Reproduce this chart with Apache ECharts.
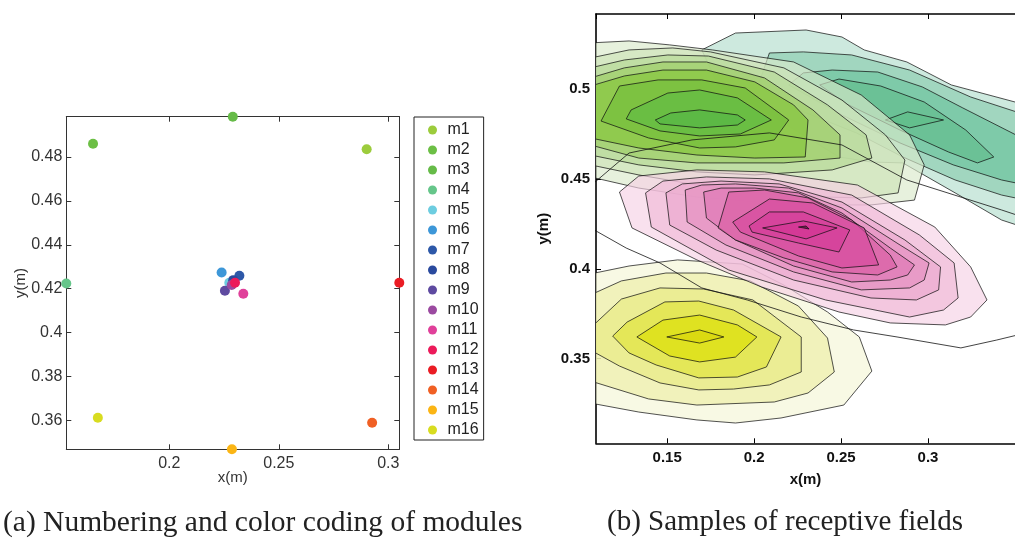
<!DOCTYPE html>
<html><head><meta charset="utf-8">
<script src="https://cdn.jsdelivr.net/npm/echarts@6/dist/echarts.min.js"></script>
<style>html,body{margin:0;padding:0;background:#fff}#c{width:1015px;height:541px}</style>
</head><body><div id="c"></div>
<script>
// ---------- Panel (a): module positions ----------
const moduleNames = ['m1','m2','m3','m4','m5','m6','m7','m8','m9','m10','m11','m12','m13','m14','m15','m16'];
const moduleX = [0.2901,0.1652,0.2290,0.1530,0.2274,0.2239,0.2320,0.2292,0.2254,0.2285,0.2338,0.2300,0.3050,0.2926,0.2286,0.1674];
const moduleY = [0.4836,0.4861,0.4984,0.4224,0.4227,0.4274,0.4259,0.4239,0.4191,0.4217,0.4177,0.4227,0.4227,0.3589,0.3468,0.3612];
const moduleColors = ['#9ccc3c','#6cbf45','#66bb48','#66c68a','#6dcde0','#3d97d8','#2d58a8','#2a4a9e','#5e4aa0','#9b4aa0','#e0409a','#ec1a5a','#ea1c24','#f06024','#fbb514','#d8dc20'];
const axisA = {xMin:0.1530, xMax:0.3050, yMin:0.3468, yMax:0.4984};

// ---------- Panel (b): receptive field contours (rings inner -> outer) ----------
const axisB = {xMin:0.1091, xMax:0.35, yMin:0.3029, yMax:0.5419};

const yellowRings = [
 [[0.1498,0.3621],[0.1687,0.3660],[0.1826,0.3621],[0.1687,0.3587]],
 [[0.1326,0.3621],[0.1476,0.3715],[0.1687,0.3743],[0.1904,0.3688],[0.2016,0.3621],[0.1893,0.3509],[0.1687,0.3482],[0.1515,0.3515]],
 [[0.1187,0.3626],[0.1270,0.3704],[0.1487,0.3816],[0.1682,0.3821],[0.1882,0.3771],[0.2155,0.3621],[0.2071,0.3454],[0.1904,0.3398],[0.1682,0.3393],[0.1437,0.3465],[0.1281,0.3532]],
 [[0.1059,0.3671],[0.1237,0.3832],[0.1459,0.3894],[0.1710,0.3888],[0.1993,0.3827],[0.2271,0.3621],[0.2271,0.3426],[0.2088,0.3354],[0.1882,0.3331],[0.1682,0.3326],[0.1459,0.3365],[0.1226,0.3459],[0.1059,0.3548]],
 [[0.1059,0.3855],[0.1237,0.3933],[0.1493,0.3977],[0.1726,0.3977],[0.1977,0.3933],[0.2255,0.3793],[0.2422,0.3615],[0.2461,0.3426],[0.2310,0.3309],[0.2116,0.3259],[0.1671,0.3242],[0.1393,0.3276],[0.1059,0.3376]],
 [[0.1059,0.3972],[0.1281,0.4016],[0.1560,0.4050],[0.1932,0.4027],[0.2171,0.3910],[0.2422,0.3760],[0.2605,0.3621],[0.2677,0.3431],[0.2516,0.3242],[0.2155,0.3170],[0.1893,0.3142],[0.1671,0.3159],[0.1337,0.3203],[0.1059,0.3253]]
];

const magentaRings = [
 [[0.2255,0.4233],[0.2299,0.4239],[0.2316,0.4222]],
 [[0.2049,0.4228],[0.2283,0.4267],[0.2477,0.4228],[0.2299,0.4167]],
 [[0.1971,0.4239],[0.2088,0.4317],[0.2283,0.4317],[0.2550,0.4217],[0.2488,0.4094],[0.2255,0.4144],[0.1988,0.4205]],
 [[0.1877,0.4261],[0.2088,0.4389],[0.2338,0.4367],[0.2633,0.4228],[0.2716,0.4022],[0.2505,0.4005],[0.2255,0.4072],[0.1921,0.4205]],
 [[0.1793,0.4228],[0.1854,0.4428],[0.2060,0.4439],[0.2310,0.4395],[0.2561,0.4272],[0.2783,0.4077],[0.2822,0.4011],[0.2711,0.3966],[0.2449,0.3983],[0.2171,0.4061],[0.1893,0.4161]],
 [[0.1710,0.4428],[0.1810,0.4450],[0.2004,0.4450],[0.2255,0.4423],[0.2505,0.4311],[0.2783,0.4116],[0.2922,0.4022],[0.2883,0.3966],[0.2783,0.3938],[0.2561,0.3927],[0.2227,0.4016],[0.1893,0.4161],[0.1726,0.4283]],
 [[0.1604,0.4439],[0.1699,0.4467],[0.1893,0.4473],[0.2199,0.4450],[0.2505,0.4339],[0.2839,0.4133],[0.3006,0.4033],[0.2978,0.3938],[0.2894,0.3894],[0.2616,0.3883],[0.2227,0.3983],[0.1838,0.4133],[0.1615,0.4261]],
 [[0.1493,0.4423],[0.1587,0.4473],[0.1810,0.4489],[0.2144,0.4473],[0.2505,0.4372],[0.2867,0.4161],[0.3072,0.4011],[0.3061,0.3883],[0.2933,0.3827],[0.2672,0.3838],[0.2227,0.3938],[0.1782,0.4105],[0.1515,0.4244]],
 [[0.1376,0.4423],[0.1476,0.4489],[0.1726,0.4512],[0.2088,0.4501],[0.2561,0.4411],[0.2950,0.4189],[0.3150,0.4033],[0.3173,0.3838],[0.3089,0.3771],[0.2894,0.3732],[0.2411,0.3827],[0.1854,0.3994],[0.1409,0.4233]],
 [[0.1226,0.4428],[0.1337,0.4517],[0.1671,0.4551],[0.2060,0.4540],[0.2594,0.4467],[0.3039,0.4233],[0.3245,0.4011],[0.3339,0.3827],[0.3245,0.3732],[0.3100,0.3688],[0.2783,0.3699],[0.2488,0.3760],[0.2043,0.3899],[0.1671,0.4050],[0.1298,0.4228]]
];
const magentaOuterLine = [[0.1031,0.4439],[0.1120,0.4512],[0.1281,0.4645],[0.1643,0.4718],[0.2088,0.4757],[0.2505,0.4690],[0.2878,0.4495],[0.3423,0.4328],[0.3562,0.4283],[0.3562,0.3643],[0.3395,0.3604],[0.3189,0.3560],[0.2822,0.3621],[0.2572,0.3660],[0.2271,0.3732],[0.1960,0.3827],[0.1699,0.3894],[0.1459,0.4033],[0.1265,0.4116],[0.1031,0.4244]];

const greenRings = [
 [[0.1432,0.4829],[0.1521,0.4868],[0.1687,0.4885],[0.1904,0.4857],[0.1949,0.4829],[0.1904,0.4801],[0.1687,0.4785],[0.1459,0.4807]],
 [[0.1265,0.4835],[0.1293,0.4885],[0.1504,0.4979],[0.1687,0.4996],[0.1904,0.4952],[0.2099,0.4829],[0.1921,0.4751],[0.1687,0.4740],[0.1459,0.4768]],
 [[0.1120,0.4823],[0.1226,0.5018],[0.1448,0.5052],[0.1699,0.5052],[0.1949,0.5007],[0.2199,0.4829],[0.2116,0.4718],[0.1893,0.4679],[0.1687,0.4673],[0.1393,0.4729]],
 [[0.1059,0.5018],[0.1254,0.5074],[0.1476,0.5107],[0.1726,0.5107],[0.2004,0.5041],[0.2227,0.4913],[0.2310,0.4829],[0.2294,0.4623],[0.2004,0.4617],[0.1671,0.4634],[0.1337,0.4673],[0.1059,0.4729]],
 [[0.1059,0.5063],[0.1254,0.5119],[0.1476,0.5152],[0.1726,0.5152],[0.2060,0.5063],[0.2338,0.4885],[0.2494,0.4746],[0.2494,0.4617],[0.2171,0.4590],[0.1671,0.4590],[0.1337,0.4617],[0.1059,0.4690]],
 [[0.1059,0.5119],[0.1254,0.5163],[0.1504,0.5191],[0.1737,0.5185],[0.2116,0.5096],[0.2422,0.4913],[0.2644,0.4746],[0.2677,0.4617],[0.2449,0.4551],[0.2004,0.4523],[0.1671,0.4540],[0.1337,0.4579],[0.1059,0.4634]],
 [[0.1059,0.5174],[0.1281,0.5219],[0.1532,0.5230],[0.1749,0.5208],[0.2171,0.5119],[0.2505,0.4940],[0.2755,0.4746],[0.2867,0.4606],[0.2828,0.4423],[0.2616,0.4395],[0.2171,0.4406],[0.1671,0.4467],[0.1337,0.4523],[0.1059,0.4579]],
 [[0.1059,0.5258],[0.1281,0.5269],[0.1515,0.5247],[0.1760,0.5219],[0.2227,0.5152],[0.2616,0.4968],[0.2894,0.4746],[0.2978,0.4579],[0.2922,0.4383],[0.2672,0.4356],[0.2227,0.4356],[0.1671,0.4400],[0.1337,0.4450],[0.1059,0.4512]]
];

const tealRings = [
 [[0.2755,0.4829],[0.2883,0.4874],[0.3089,0.4829],[0.2894,0.4785]],
 [[0.2377,0.5024],[0.2488,0.5057],[0.2728,0.5018],[0.2978,0.4929],[0.3217,0.4773],[0.3378,0.4623],[0.3284,0.4590],[0.3117,0.4651],[0.2839,0.4773],[0.2533,0.4918]],
 [[0.2199,0.5024],[0.2283,0.5091],[0.2449,0.5107],[0.2711,0.5096],[0.2967,0.5013],[0.3200,0.4896],[0.3562,0.4718],[0.3562,0.4467],[0.3423,0.4495],[0.3145,0.4579],[0.2839,0.4701],[0.2505,0.4857]],
 [[0.2021,0.5013],[0.2088,0.5202],[0.2283,0.5208],[0.2561,0.5191],[0.2894,0.5107],[0.3245,0.4957],[0.3562,0.4857],[0.3562,0.4383],[0.3423,0.4411],[0.3156,0.4495],[0.2855,0.4623],[0.2588,0.4757],[0.2227,0.4896]],
 [[0.1699,0.5219],[0.1893,0.5313],[0.2299,0.5330],[0.2505,0.5291],[0.2633,0.5219],[0.2878,0.5152],[0.3134,0.5024],[0.3562,0.4913],[0.3562,0.4228],[0.3423,0.4272],[0.3156,0.4423],[0.2855,0.4590],[0.2672,0.4595],[0.2488,0.4623],[0.2021,0.4901],[0.1793,0.5024]]
];

// level colours (inner -> outer), as seen over white
const yellowColors  = ['#dada12','#dee122','#e4e658','#ebec94','#f1f2bb','#f8f9e4'];
const magentaColors = ['#7a1c55','#d43a97','#d6459c','#d955a3','#dd6aad','#e283bb','#e89bc7','#eeb2d4','#f3c7df','#f9e1ee'];
const greenColors   = ['#5db946','#6bbd44','#7dc142','#90c94f','#a8d27a','#c0dea4','#d6e8c4','#e7f1dd'];
const tealColors    = ['#64bf8d','#6bc196','#7ecaa8','#a1d7bf','#cde9de'];

const ALPHA = 0.65;
function hex(h){return [parseInt(h.slice(1,3),16),parseInt(h.slice(3,5),16),parseInt(h.slice(5,7),16)];}
function fillsFor(colors){
  return colors.map((c,i)=>{
    const t = hex(c);
    const p = i < colors.length-1 ? hex(colors[i+1]) : [255,255,255];
    const f = t.map((v,k)=>Math.max(0,Math.min(255,Math.round((v-(1-ALPHA)*p[k])/ALPHA))));
    return 'rgba('+f[0]+','+f[1]+','+f[2]+','+ALPHA+')';
  });
}
function fieldSeries(name, rings, colors, z){
  const fills = fillsFor(colors);
  const n = rings.length;
  return {
    type:'custom', name:name, xAxisIndex:2, yAxisIndex:2, clip:true, z:z, silent:true,
    data: rings.map((r,i)=>[rings[n-1-i][0][0], rings[n-1-i][0][1], n-1-i]),
    renderItem: function(params, api){
      const idx = api.value(2);
      const pts = rings[idx].map(p=>api.coord(p));
      return {type:'polygon', shape:{points:pts},
        style:{fill:fills[idx], stroke:'rgba(15,15,15,0.72)', lineWidth:1}};
    }
  };
}

const chart = echarts.init(document.getElementById('c'), null, {renderer:'canvas'});
const fA = 'Liberation Sans, Arial, sans-serif';
const tickA = {inside:true, length:5, lineStyle:{color:'#333'}};
const tickB = {inside:true, length:5, lineStyle:{color:'#000'}};

const scatterSeries = moduleNames.map((nm,i)=>({
  type:'scatter', name:nm, xAxisIndex:0, yAxisIndex:0, clip:false,
  symbolSize:10, itemStyle:{color:moduleColors[i], opacity:1},
  data:[[moduleX[i], moduleY[i]]], z:5
}));

const option = {
  animation:false,
  backgroundColor:'#fff',
  title:[
    {text:'(a) Numbering and color coding of modules', left:3, top:508, padding:0,
     textStyle:{fontFamily:'Liberation Serif, serif', fontSize:29.5, fontWeight:'normal', color:'#222'}},
    {text:'(b) Samples of receptive fields', left:607, top:508, padding:0,
     textStyle:{fontFamily:'Liberation Serif, serif', fontSize:29, fontWeight:'normal', color:'#222'}}
  ],
  legend:{
    data:moduleNames, orient:'vertical', left:414, top:117,
    icon:'circle', itemWidth:20, itemHeight:9, itemGap:0,
    padding:[3,5,0,14], borderColor:'#222', borderWidth:1,
    textStyle:{fontFamily:fA, fontSize:16, color:'#222', lineHeight:20},
    selectedMode:false
  },
  grid:[
    {left:66.3, top:116.7, width:333, height:332.6},
    {left:596, top:14, width:433, height:429.3}
  ],
  xAxis:[
    {gridIndex:0, type:'value', min:axisA.xMin, max:axisA.xMax, splitNumber:3, position:'bottom',
     axisLine:{lineStyle:{color:'#333', width:1}}, axisTick:tickA, splitLine:{show:false},
     axisLabel:{fontFamily:fA, fontSize:16, color:'#333', margin:6, showMinLabel:false, showMaxLabel:false},
     name:'x(m)', nameLocation:'middle', nameGap:21, nameMoveOverlap:false,
     nameTextStyle:{fontFamily:fA, fontSize:15, color:'#333'}},
    {gridIndex:0, type:'value', min:axisA.xMin, max:axisA.xMax, splitNumber:3, position:'top',
     axisLine:{lineStyle:{color:'#333', width:1}}, axisTick:tickA, splitLine:{show:false}, axisLabel:{show:false}},
    {gridIndex:1, type:'value', min:axisB.xMin, max:axisB.xMax, splitNumber:5, position:'bottom',
     axisLine:{lineStyle:{color:'#000', width:1.6}}, axisTick:tickB, splitLine:{show:false},
     axisLabel:{fontFamily:fA, fontSize:15, fontWeight:'bold', color:'#111', margin:7, showMinLabel:false, showMaxLabel:false},
     name:'x(m)', nameLocation:'middle', nameGap:29, nameMoveOverlap:false,
     nameTextStyle:{fontFamily:fA, fontSize:15, fontWeight:'bold', color:'#111'}},
    {gridIndex:1, type:'value', min:axisB.xMin, max:axisB.xMax, splitNumber:5, position:'top',
     axisLine:{lineStyle:{color:'#000', width:1.6}}, axisTick:tickB, splitLine:{show:false}, axisLabel:{show:false}}
  ],
  yAxis:[
    {gridIndex:0, type:'value', min:axisA.yMin, max:axisA.yMax, splitNumber:8, position:'left',
     axisLine:{lineStyle:{color:'#333', width:1}}, axisTick:tickA, splitLine:{show:false},
     axisLabel:{fontFamily:fA, fontSize:16, color:'#333', margin:4, showMinLabel:false, showMaxLabel:false},
     name:'y(m)', nameLocation:'middle', nameGap:38, nameMoveOverlap:false,
     nameTextStyle:{fontFamily:fA, fontSize:15, color:'#333'}},
    {gridIndex:0, type:'value', min:axisA.yMin, max:axisA.yMax, splitNumber:8, position:'right',
     axisLine:{lineStyle:{color:'#333', width:1}}, axisTick:tickA, splitLine:{show:false}, axisLabel:{show:false}},
    {gridIndex:1, type:'value', min:axisB.yMin, max:axisB.yMax, splitNumber:5, position:'left',
     axisLine:{lineStyle:{color:'#000', width:1.6}}, axisTick:tickB, splitLine:{show:false},
     axisLabel:{fontFamily:fA, fontSize:15, fontWeight:'bold', color:'#111', margin:6, showMinLabel:false, showMaxLabel:false},
     name:'y(m)', nameLocation:'middle', nameGap:45, nameMoveOverlap:false,
     nameTextStyle:{fontFamily:fA, fontSize:15, fontWeight:'bold', color:'#111'}}
  ],
  series: scatterSeries.concat([
    fieldSeries('teal', tealRings, tealColors, 1),
    fieldSeries('green', greenRings, greenColors, 2),
    fieldSeries('yellow', yellowRings, yellowColors, 3),
    fieldSeries('magenta', magentaRings, magentaColors, 4),
    {type:'line', name:'outer', xAxisIndex:2, yAxisIndex:2, data:magentaOuterLine, showSymbol:false,
     symbol:'none', clip:true, z:6, silent:true, lineStyle:{color:'rgba(20,20,20,0.8)', width:1}}
  ])
};
chart.setOption(option);
</script>
</body></html>
